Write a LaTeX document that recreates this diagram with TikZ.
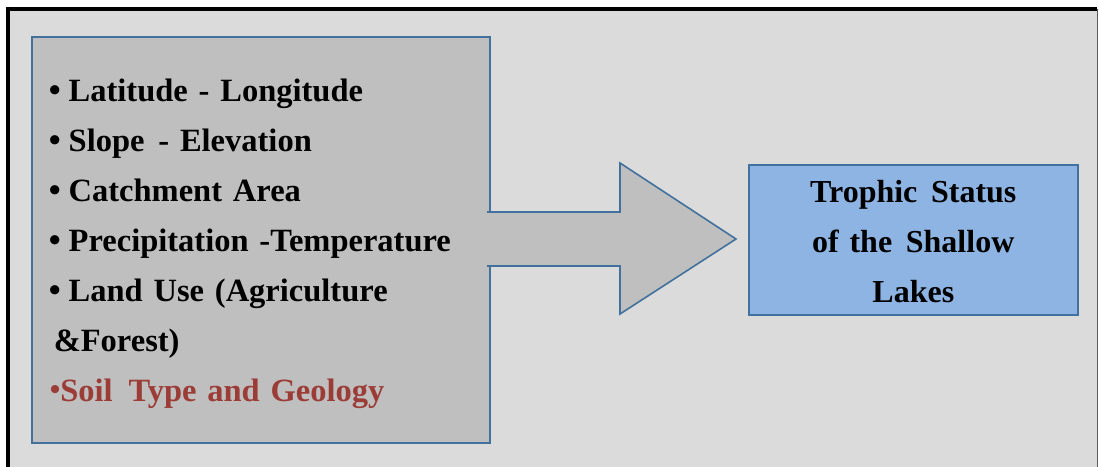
\documentclass[tikz,border=0pt]{standalone}
\usepackage{fontspec}
\setmainfont{Liberation Serif}
\usetikzlibrary{positioning}
\definecolor{panelgray}{RGB}{219,219,219}
\definecolor{boxgray}{RGB}{191,191,191}
\definecolor{edgeblue}{RGB}{65,113,156}
\definecolor{lakeblue}{RGB}{141,180,227}
\definecolor{soilred}{RGB}{155,60,54}
\newcommand{\blt}{\hspace*{-2pt}{\fontsize{34pt}{34pt}\selectfont\textbullet}\hspace{8pt}}
\newcommand{\sblt}{\hspace*{-1pt}\raisebox{1.5pt}{\fontsize{30pt}{30pt}\selectfont\textbullet}}
\tikzset{factorbox/.style={draw=edgeblue, fill=boxgray, line width=1.6pt, align=left,
    font=\fontsize{32.5pt}{50pt}\selectfont\bfseries}}
\tikzset{lakebox/.style={draw=edgeblue, fill=lakeblue, line width=1.6pt, align=center,
    font=\fontsize{32pt}{50pt}\selectfont\bfseries}}

\begin{document}
\begin{tikzpicture}[x=1pt,y=-1pt]
      \useasboundingbox (0,0) rectangle (1099,466);
      % panel
      \fill[panelgray] (8,9) rectangle (1098,470);
      \draw[line width=4pt] (8,470) -- (8,9) -- (1097,9);
      \draw[black!65, line width=1pt] (1097,9) -- (1097,470);
      % boxes
      \node[factorbox, text width=420pt, inner xsep=19pt, text height=30pt, minimum height=406pt, anchor=north west] (factors) at (31,36)
        {\blt Latitude - Longitude\\
         \blt Slope\hspace{3pt} - Elevation\\
         \blt Catchment Area\\
         \blt Precipitation -Temperature\\
         \blt Land Use (Agriculture\\
         \hspace*{3pt}\&Forest)\\
         \textcolor{soilred}{\sblt Soil\hspace{5pt} Type and Geology}};
      \node[lakebox, text width=300pt, text height=25pt, minimum width=329pt, minimum height=150pt, anchor=north west] (status) at (748,164)
        {Trophic\hspace{3pt} Status\\of the\hspace{3pt} Shallow\\Lakes};
      % arrow
      \coordinate (s1) at (487,212);
      \coordinate (s2) at (620,212);
      \coordinate (h1) at (620,163);
      \coordinate (tip) at (736,239);
      \coordinate (h2) at (620,314);
      \coordinate (s3) at (620,266);
      \coordinate (s4) at (487,266);
      \fill[boxgray] (s1) -- (s2) -- (h1) -- (tip) -- (h2) -- (s3) -- (s4) -- cycle;
      \draw[edgeblue, line width=1.6pt, line join=miter] (s1) -- (s2) -- (h1) -- (tip) -- (h2) -- (s3) -- (s4);
\end{tikzpicture}
\end{document}
